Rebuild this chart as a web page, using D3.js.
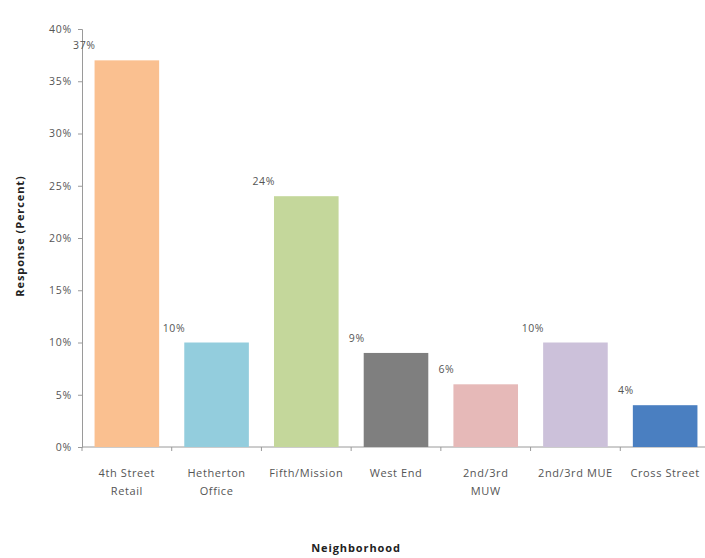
<!DOCTYPE html>
<html>
<head>
<meta charset="utf-8">
<script src="https://cdn.jsdelivr.net/npm/d3@7"></script>
<style>
  html, body { margin: 0; padding: 0; background: #fff; }
  svg { display: block; font-family: "Open Sans", "Liberation Sans", sans-serif; }
</style>
</head>
<body>
<svg id="chart" width="705" height="558"></svg>
<script>
// Survey responses by neighborhood (percent)
const categories = [
  ["4th Street", "Retail"],
  ["Hetherton", "Office"],
  ["Fifth/Mission"],
  ["West End"],
  ["2nd/3rd", "MUW"],
  ["2nd/3rd MUE"],
  ["Cross Street"]
];
const values = [37, 10, 24, 9, 6, 10, 4];
const colors = ["#FAC090", "#93CDDD", "#C4D79B", "#7F7F7F", "#E6B9B8", "#CCC1DA", "#4A7FC1"];
const yTicks = [0, 5, 10, 15, 20, 25, 30, 35, 40];

const svg = d3.select("#chart");
const plot = { left: 82, right: 710, top: 29, bottom: 447 };

const keys = categories.map(c => c.join(" "));
const x = d3.scaleBand().domain(keys).range([plot.left, plot.right]).paddingInner(0.28).paddingOuter(0.14);
const y = d3.scaleLinear().domain([0, 40]).range([plot.bottom, plot.top]);

// Y axis
const yAxis = svg.append("g")
  .attr("transform", `translate(${plot.left},0)`)
  .call(d3.axisLeft(y).tickValues(yTicks).tickFormat(d => d + "%").tickSize(4).tickPadding(6));
yAxis.select(".domain").attr("stroke", "#9a9a9a");
yAxis.selectAll(".tick line").attr("stroke", "#9a9a9a");
yAxis.selectAll(".tick text")
  .attr("fill", "#555")
  .attr("font-size", 10.5)
  .attr("letter-spacing", 0.8)
  .attr("font-family", "'Open Sans', sans-serif");

// X axis line with ticks at category boundaries
const step = x.step();
const boundaries = d3.range(categories.length + 1).map(i => plot.left + i * step);
svg.append("line")
  .attr("x1", plot.left).attr("x2", plot.right).attr("y1", plot.bottom).attr("y2", plot.bottom)
  .attr("stroke", "#9a9a9a");
svg.selectAll(".xtick").data(boundaries).join("line")
  .attr("class", "xtick")
  .attr("x1", d => d).attr("x2", d => d)
  .attr("y1", plot.bottom).attr("y2", plot.bottom + 4)
  .attr("stroke", "#9a9a9a");

// Bars
svg.selectAll(".bar").data(values).join("rect")
  .attr("class", "bar")
  .attr("x", (d, i) => x(keys[i]))
  .attr("y", d => y(d))
  .attr("width", x.bandwidth())
  .attr("height", d => plot.bottom - y(d))
  .attr("fill", (d, i) => colors[i]);

// Value labels at the upper-left of each bar
svg.selectAll(".val").data(values).join("text")
  .attr("class", "val")
  .attr("x", (d, i) => x(keys[i]) + 1)
  .attr("y", d => y(d) - 11)
  .attr("text-anchor", "end")
  .attr("font-size", 10.5)
  .attr("letter-spacing", 0.6)
  .attr("fill", "#555")
  .text(d => d + "%");

// Category labels
const cat = svg.selectAll(".cat").data(categories).join("text")
  .attr("class", "cat")
  .attr("text-anchor", "middle")
  .attr("font-size", 11)
  .attr("letter-spacing", 0.6)
  .attr("fill", "#555");
cat.each(function(lines, i) {
  const cx = x(keys[i]) + x.bandwidth() / 2;
  d3.select(this).selectAll("tspan").data(lines).join("tspan")
    .attr("x", cx)
    .attr("y", (d, j) => 477 + j * 18)
    .text(d => d);
});

// Axis titles
svg.append("text")
  .attr("transform", "translate(24,236) rotate(-90)")
  .attr("text-anchor", "middle")
  .attr("font-size", 11)
  .attr("font-weight", "bold")
  .attr("letter-spacing", 0.9)
  .attr("fill", "#222")
  .text("Response (Percent)");
svg.append("text")
  .attr("x", 356).attr("y", 552)
  .attr("text-anchor", "middle")
  .attr("font-size", 11)
  .attr("font-weight", "bold")
  .attr("letter-spacing", 0.9)
  .attr("fill", "#222")
  .text("Neighborhood");
</script>
</body>
</html>
